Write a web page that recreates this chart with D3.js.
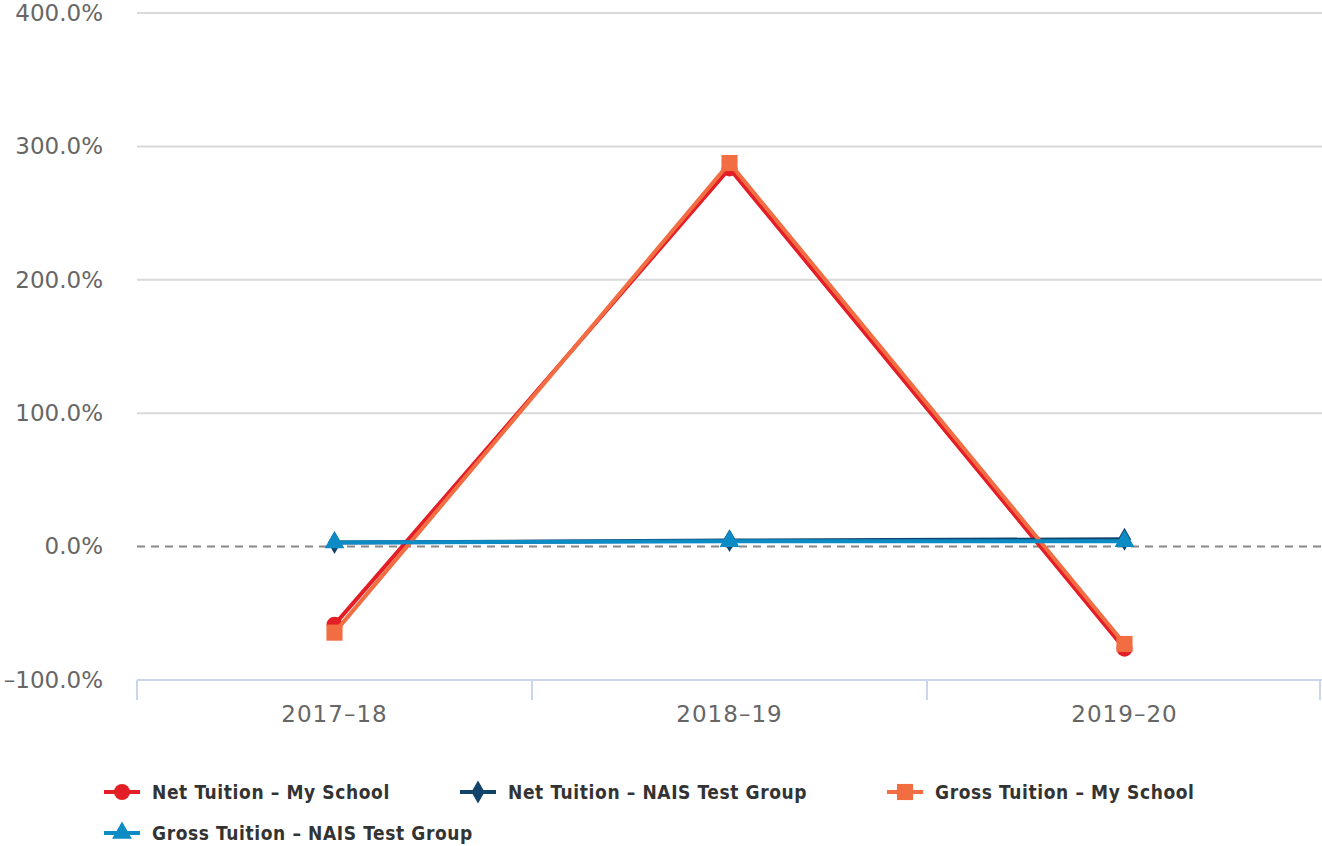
<!DOCTYPE html>
<html>
<head>
<meta charset="utf-8">
<script src="https://cdn.jsdelivr.net/npm/d3@7"></script>
<style>
  body { margin: 0; background: #fff; }
  text { font-family: "DejaVu Sans", sans-serif; }
</style>
</head>
<body>
<svg id="chart"></svg>
<script>
// données
const years = ["2017–18", "2018–19", "2019–20"];
const netMySchool = [-58.5, 283.5, -76.5];
const netNais = [3.0, 4.5, 5.5];
const grossMySchool = [-64.5, 287.5, -73.0];
const grossNais = [3.0, 4.0, 4.0];
const yTicks = [-100, 0, 100, 200, 300, 400];

const seriesNames = ["Net Tuition – My School", "Net Tuition – NAIS Test Group", "Gross Tuition – My School", "Gross Tuition – NAIS Test Group"];
const seriesColors = ["#e31e26", "#12446b", "#f36d43", "#0d8bc4"];
const seriesSymbols = [d3.symbolCircle, d3.symbolDiamond, d3.symbolSquare, d3.symbolTriangle];

const series = [netMySchool, netNais, grossMySchool, grossNais].map((v, i) => ({
  name: seriesNames[i], color: seriesColors[i], symbol: seriesSymbols[i], values: v
}));

var width = 1322, height = 846;
var margin = {top: 13, right: 0, bottom: 166, left: 137};

const svg = d3.select("#chart").attr("width", width).attr("height", height);

const x = d3.scaleBand().domain(years).range([margin.left, width - margin.right]);
const y = d3.scaleLinear().domain([-100, 400]).range([height - margin.bottom, margin.top]);

// grille
svg.append("g").selectAll("line")
  .data(yTicks.filter(t => t !== 0 && t !== -100))
  .enter().append("line")
  .attr("x1", margin.left).attr("x2", width)
  .attr("y1", d => y(d)).attr("y2", d => y(d))
  .attr("stroke", "#d9d9d9").attr("stroke-width", 2);

// ligne zéro
svg.append("line")
  .attr("x1", margin.left).attr("x2", width)
  .attr("y1", y(0)).attr("y2", y(0))
  .attr("stroke", "#888").attr("stroke-width", 2).attr("stroke-dasharray", "8,6");

// axe y
const yAxis = svg.append("g")
  .attr("transform", `translate(${margin.left},0)`)
  .call(d3.axisLeft(y).tickValues(yTicks).tickSize(0).tickPadding(34));
yAxis.select(".domain").remove();
yAxis.selectAll("text").attr("font-size", 23).attr("fill", "#666")
  .attr("font-family", "DejaVu Sans")
  .text(d => (d < 0 ? "\u2013" + Math.abs(d).toFixed(1) : d.toFixed(1)) + "%");

// axe x
const xAxisY = y(-100);
const xg = svg.append("g");
xg.append("line")
  .attr("x1", margin.left).attr("x2", width)
  .attr("y1", xAxisY).attr("y2", xAxisY)
  .attr("stroke", "#ccd6eb").attr("stroke-width", 2);
const xEdges = years.map(d => x(d)).concat([x(years[years.length - 1]) + x.bandwidth() - 2]);
xg.selectAll("line.tick").data(xEdges).enter().append("line")
  .attr("class", "tick")
  .attr("x1", d => d).attr("x2", d => d)
  .attr("y1", xAxisY).attr("y2", xAxisY + 20)
  .attr("stroke", "#ccd6eb").attr("stroke-width", 2);
xg.selectAll("text").data(years).enter().append("text")
  .attr("x", d => x(d) + x.bandwidth() / 2)
  .attr("y", xAxisY + 42)
  .attr("text-anchor", "middle")
  .attr("font-size", 23).attr("fill", "#666")
  .attr("letter-spacing", 1)
  .text(d => d);

// séries
const line = d3.line().x((d, i) => x(years[i]) + x.bandwidth() / 2).y(d => y(d));
const sizes = [200, 150, 260, 170];

series.forEach((s, k) => {
  const g = svg.append("g");
  g.append("path")
    .attr("d", line(s.values))
    .attr("fill", "none")
    .attr("stroke", s.color)
    .attr("stroke-width", 4)
    .attr("stroke-linejoin", "round");
  g.selectAll("path.pt").data(s.values).enter().append("path")
    .attr("class", "pt")
    .attr("transform", (d, i) => `translate(${x(years[i]) + x.bandwidth() / 2},${y(d)})`)
    .attr("d", d3.symbol().type(s.symbol).size(sizes[k]))
    .attr("fill", s.color);
});

// légende
const legendPos = [[104, 792], [460, 792], [887, 792], [104, 833]];
series.forEach((s, k) => {
  const g = svg.append("g").attr("transform", `translate(${legendPos[k][0]},${legendPos[k][1]})`);
  g.append("line").attr("x1", 0).attr("x2", 36).attr("y1", 0).attr("y2", 0)
    .attr("stroke", s.color).attr("stroke-width", 4);
  g.append("path").attr("transform", "translate(18,0)")
    .attr("d", d3.symbol().type(s.symbol).size(sizes[k]))
    .attr("fill", s.color);
  g.append("text").attr("x", 48).attr("y", 7)
    .attr("font-size", 19).attr("font-weight", "bold")
    .attr("font-family", "DejaVu Sans Condensed, DejaVu Sans")
    .attr("font-stretch", "condensed")
    .attr("letter-spacing", 0.6)
    .attr("fill", "#333")
    .text(s.name);
});
</script>
</body>
</html>
